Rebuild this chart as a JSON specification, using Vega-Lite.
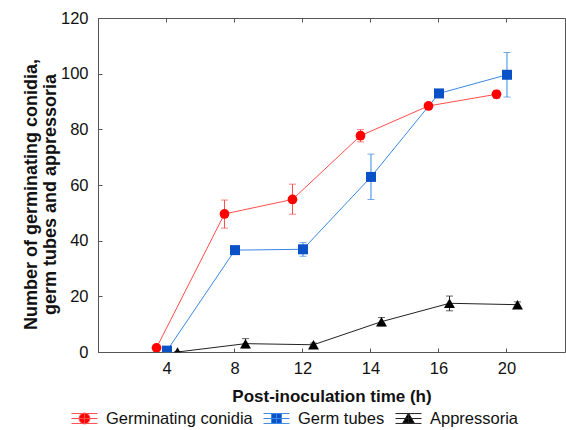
{
  "$schema": "https://vega.github.io/schema/vega-lite/v6.json",
  "width": 467,
  "height": 334,
  "autosize": {"type": "none"},
  "padding": {"left": 98, "top": 18, "right": 1, "bottom": 78},
  "background": "white",
  "config": {
    "font": "Liberation Sans",
    "view": {"stroke": "#555", "strokeWidth": 1},
    "axis": {"grid": false, "domain": false, "tickColor": "#555", "tickSize": -4, "labelColor": "#111", "titleColor": "#111", "labelFont": "Liberation Sans", "titleFont": "Liberation Sans"}
  },
  "data": {
    "values": [
      {"hours": 4, "series": "Germinating conidia", "mean": 1.5, "lo": 1.5, "hi": 1.5},
      {"hours": 8, "series": "Germinating conidia", "mean": 49.6, "lo": 44.5, "hi": 54.6},
      {"hours": 12, "series": "Germinating conidia", "mean": 54.8, "lo": 49.5, "hi": 60.3},
      {"hours": 14, "series": "Germinating conidia", "mean": 77.7, "lo": 75.5, "hi": 79.9},
      {"hours": 16, "series": "Germinating conidia", "mean": 88.4, "lo": 87.8, "hi": 89.0},
      {"hours": 20, "series": "Germinating conidia", "mean": 92.6, "lo": 91.2, "hi": 94.0},
      {"hours": 4, "series": "Germ tubes", "mean": 0.5, "lo": 0.0, "hi": 1.0},
      {"hours": 8, "series": "Germ tubes", "mean": 36.6, "lo": 35.8, "hi": 37.4},
      {"hours": 12, "series": "Germ tubes", "mean": 36.9, "lo": 34.4, "hi": 39.3},
      {"hours": 14, "series": "Germ tubes", "mean": 62.9, "lo": 54.8, "hi": 71.1},
      {"hours": 16, "series": "Germ tubes", "mean": 92.9, "lo": 92.3, "hi": 93.5},
      {"hours": 20, "series": "Germ tubes", "mean": 99.6, "lo": 91.6, "hi": 107.6},
      {"hours": 4, "series": "Appressoria", "mean": 0.0, "lo": 0.0, "hi": 0.0},
      {"hours": 8, "series": "Appressoria", "mean": 3.0, "lo": 1.5, "hi": 4.8},
      {"hours": 12, "series": "Appressoria", "mean": 2.6, "lo": 2.0, "hi": 3.2},
      {"hours": 14, "series": "Appressoria", "mean": 10.9, "lo": 9.4, "hi": 12.4},
      {"hours": 16, "series": "Appressoria", "mean": 17.5, "lo": 14.8, "hi": 20.1},
      {"hours": 20, "series": "Appressoria", "mean": 17.0, "lo": 16.0, "hi": 18.0}
    ]
  },
  "encoding": {
    "x": {"field": "hours", "type": "ordinal", "axis": null, "scale": {"domain": [4, 8, 12, 14, 16, 20], "paddingInner": 0, "paddingOuter": 0.434, "align": 0.593}},
    "xOffset": {"field": "series", "type": "nominal", "scale": {"type": "point", "padding": 0, "range": [23.5, 44.5], "domain": ["Germinating conidia", "Germ tubes", "Appressoria"]}},
    "y": {"field": "mean", "type": "quantitative", "scale": {"domain": [0, 120]}, "axis": {"values": [0, 20, 40, 60, 80, 100, 120], "title": ["Number of germinating conidia,", "germ tubes and appressoria"], "titleFontSize": 18, "titleFontWeight": "bold", "titleLineHeight": 18.5, "titlePadding": 1, "titleY": 176, "labelFontSize": 16.5, "labelPadding": 14}}
  },
  "layer": [
    {
      "mark": {"type": "line", "strokeWidth": 1, "clip": true},
      "encoding": {
        "x": {"field": "hours", "type": "ordinal", "axis": {"orient": "bottom", "title": "Post-inoculation time (h)", "titleFontSize": 17, "titleFontWeight": "bold", "labelFontSize": 16.5, "labelAngle": 0, "labelPadding": 12, "titlePadding": 12}},
        "color": {"field": "series", "type": "nominal", "legend": null, "scale": {"domain": ["Appressoria", "Germ tubes", "Germinating conidia"], "range": ["#222222", "#3a88e4", "#ff4d4d"]}}
      }
    },
    {
      "mark": {"type": "rule", "strokeWidth": 1},
      "encoding": {
        "x": {"field": "hours", "type": "ordinal", "axis": {"orient": "top", "labels": false, "title": null}},
        "y": {"field": "lo", "type": "quantitative"},
        "y2": {"field": "hi"},
        "color": {"field": "series", "type": "nominal", "legend": null}
      }
    },
    {
      "mark": {"type": "tick", "orient": "horizontal", "size": 7, "thickness": 1},
      "encoding": {
        "y": {"field": "lo", "type": "quantitative"},
        "color": {"field": "series", "type": "nominal", "legend": null}
      }
    },
    {
      "mark": {"type": "tick", "orient": "horizontal", "size": 7, "thickness": 1},
      "encoding": {
        "y": {"field": "hi", "type": "quantitative"},
        "color": {"field": "series", "type": "nominal", "legend": null}
      }
    },
    {
      "transform": [{"filter": "datum.series === 'Germinating conidia'"}],
      "mark": {"type": "point", "shape": "circle", "filled": true, "opacity": 1, "size": 95, "color": "#ff0000", "clip": true}
    },
    {
      "transform": [{"filter": "datum.series === 'Germ tubes'"}],
      "mark": {"type": "point", "shape": "square", "filled": true, "opacity": 1, "size": 100, "color": "#0a50c6", "clip": true}
    },
    {
      "transform": [{"filter": "datum.series === 'Appressoria'"}],
      "mark": {"type": "point", "shape": "triangle-up", "filled": true, "opacity": 1, "size": 120, "color": "#000000", "clip": true}
    },
    {
      "mark": {"type": "point", "filled": true, "size": 0, "opacity": 1},
      "encoding": {
        "fill": {"field": "series", "type": "nominal", "scale": {"domain": ["Germinating conidia", "Germ tubes", "Appressoria"], "range": ["#ff0000", "#0a50c6", "#000000"]}, "legend": {"title": null, "orient": "none", "legendX": -27, "legendY": 387, "direction": "horizontal", "symbolSize": 676, "symbolOpacity": 1, "symbolStrokeWidth": 1, "labelFontSize": 16.5, "labelOffset": 8, "columnPadding": 8, "labelColor": "#111", "padding": 0}},
        "stroke": {"field": "series", "type": "nominal", "scale": {"domain": ["Germinating conidia", "Germ tubes", "Appressoria"], "range": ["#ff4d4d", "#3a88e4", "#222222"]}, "legend": {"title": null, "orient": "none", "legendX": -27, "legendY": 387, "direction": "horizontal", "symbolSize": 676, "symbolOpacity": 1, "symbolStrokeWidth": 1, "labelFontSize": 16.5, "labelOffset": 8, "columnPadding": 8, "labelColor": "#111", "padding": 0}},
        "shape": {"field": "series", "type": "nominal", "scale": {"domain": ["Germinating conidia", "Germ tubes", "Appressoria"], "range": [
          "M-1,-0.38H1M-1,0H1M-1,0.38H1M0,-0.38V0.38M0.42,0A0.42,0.42,0,1,1,-0.42,0A0.42,0.42,0,1,1,0.42,0Z",
          "M-1,-0.38H1M-1,0H1M-1,0.38H1M0,-0.38V0.38M-0.38,-0.38H0.38V0.38H-0.38Z",
          "M-1,-0.38H1M-1,0H1M-1,0.38H1M0,-0.38V0.38M0,-0.42L0.44,0.34L-0.44,0.34Z"
        ]}, "legend": {"title": null, "orient": "none", "legendX": -27, "legendY": 387, "direction": "horizontal", "symbolSize": 676, "symbolOpacity": 1, "symbolStrokeWidth": 1, "labelFontSize": 16.5, "labelOffset": 8, "columnPadding": 8, "labelColor": "#111", "padding": 0}}
      }
    }
  ],
  "resolve": {"axis": {"x": "independent"}}
}
